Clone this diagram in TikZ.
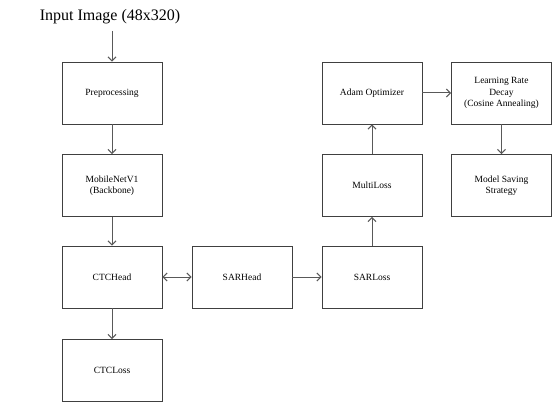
\documentclass[tikz,border=0pt]{standalone}
\usepackage{fontspec}
\setmainfont{Liberation Serif}
\usetikzlibrary{arrows.meta}
\begin{document}
\begin{tikzpicture}[x=1pt,y=-1pt,
  blk/.style={draw=black!75,line width=0.9pt,minimum width=100pt,minimum height=62pt,inner sep=1pt,align=center,font=\fontsize{9.5}{11.5}\selectfont},
  conn/.style={draw=black!65,line width=1pt,-{Straight Barb[length=4pt,width=8pt]}}]
\useasboundingbox (0,0) rectangle (559,409);
\node[font=\fontsize{16}{18}\selectfont,anchor=center] (in) at (110,17) {Input Image (48x320)};
\coordinate (ins) at (112,31);
\node[blk] (pre) at (112,93) {Preprocessing};
\node[blk] (mob) at (112,185.5) {MobileNetV1\\(Backbone)};
\node[blk] (ctch) at (112,277) {CTCHead};
\node[blk] (ctcl) at (112,370.5) {CTCLoss};
\node[blk] (sarh) at (242,277) {SARHead};
\node[blk] (sarl) at (372,277) {SARLoss};
\node[blk] (mul) at (372,185.5) {MultiLoss};
\node[blk] (adam) at (372,93) {Adam Optimizer};
\node[blk] (lr) at (501.5,93) {Learning Rate\\Decay\\(Cosine Annealing)};
\node[blk] (ms) at (501.5,185.5) {Model Saving\\Strategy};
\draw[conn] (ins) -- (pre);
\draw[conn] (pre) -- (mob);
\draw[conn] (mob) -- (ctch);
\draw[conn] (ctch) -- (ctcl);
\draw[conn,{Straight Barb[length=4pt,width=8pt]}-{Straight Barb[length=4pt,width=8pt]}] (ctch) -- (sarh);
\draw[conn] (sarh) -- (sarl);
\draw[conn] (sarl) -- (mul);
\draw[conn] (mul) -- (adam);
\draw[conn] (adam) -- (lr);
\draw[conn] (lr) -- (ms);
\end{tikzpicture}
\end{document}
